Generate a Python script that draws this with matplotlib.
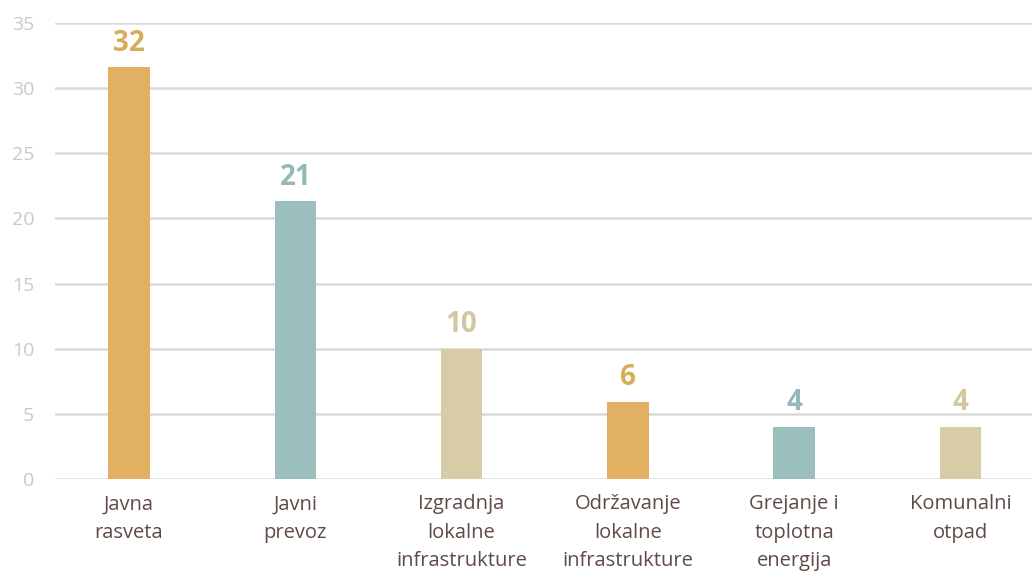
import matplotlib
import matplotlib.pyplot as plt
import numpy as np

matplotlib.use('Agg')

categories = ['Javna\nrasveta', 'Javni\nprevoz', 'Izgradnja\nlokalne\ninfrastrukture',
              'Održavanje\nlokalne\ninfrastrukture', 'Grejanje i\ntoplotna\nenergija',
              'Komunalni\notpad']
values = [31.6, 21.3, 10.0, 5.9, 4.0, 4.0]
value_labels = ['32', '21', '10', '6', '4', '4']
colors = ['#E1B062', '#9BBFBD', '#D8CCA6', '#E1B062', '#9BBFBD', '#D8CCA6']
label_colors = ['#D8AC58', '#93BAB8', '#D3C79F', '#D8AC58', '#93BAB8', '#D3C79F']
yticks = [0, 5, 10, 15, 20, 25, 30, 35]

plt.rcParams['font.family'] = ['Open Sans', 'DejaVu Sans']

fig = plt.figure(figsize=(10.32, 5.71), dpi=100)
ax = fig.add_axes([55 / 1032, 92 / 571, 1 - 55 / 1032, 456 / 571])

x = np.arange(len(categories))
ax.bar(x, values, width=0.25, color=colors, zorder=2)

for xi, v, lab, c in zip(x, values, value_labels, label_colors):
    ax.annotate(lab, (xi, v), xytext=(0, 7), textcoords='offset points',
                ha='center', va='bottom', fontsize=20, fontweight='bold', color=c)

ax.set_xlim(-0.445, 5.43)
ax.set_ylim(0, 35)
ax.set_yticks(yticks)
ax.set_xticks(x)
ax.set_xticklabels(categories, fontsize=14.5, color='#5E4B45', linespacing=1.55)
ax.tick_params(axis='y', length=0, pad=15, labelsize=14, labelcolor='#C9C9C9')
ax.tick_params(axis='x', length=0, pad=11)
ax.grid(axis='y', color='#DADADA', linewidth=1.8, zorder=0)
ax.set_axisbelow(True)
for s in ax.spines.values():
    s.set_visible(False)

plt.savefig('out.png', dpi=100, facecolor='white')
plt.close()
